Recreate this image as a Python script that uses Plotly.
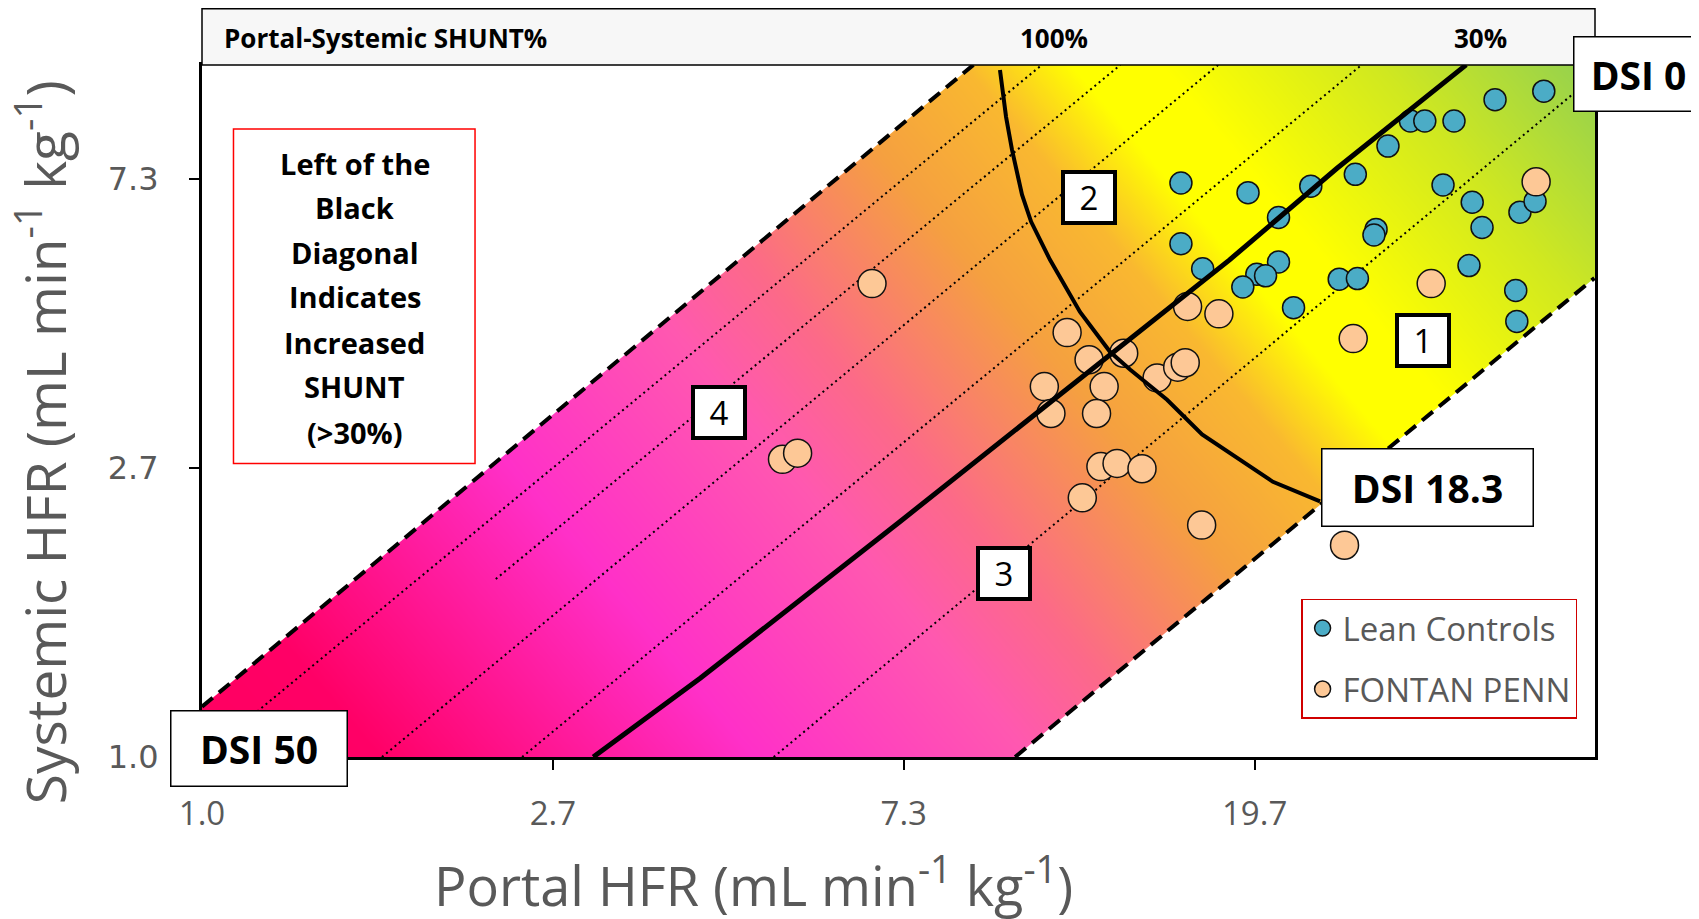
import numpy as np
import plotly.graph_objects as go

# ---------------- data (HFR values, mL/min/kg) ----------------
lean_portal = [16.28, 19.71, 23.57, 26.76, 29.37, 31.31, 32.62, 35.45, 39.85, 45.79,
               34.36, 37.34, 38.40, 42.78, 44.66, 28.39, 28.22, 21.50, 16.28, 17.32,
               21.50, 20.21, 20.72, 19.42, 22.44, 25.56, 26.92, 37.00, 42.27, 42.40]
lean_systemic = [7.28, 7.04, 7.20, 7.50, 8.27, 9.02, 9.02, 9.02, 9.71, 10.00,
                 7.23, 6.81, 6.24, 6.58, 6.83, 6.20, 6.08, 6.46, 5.90, 5.41,
                 5.54, 5.31, 5.28, 5.08, 4.73, 5.22, 5.23, 5.47, 5.02, 4.51]

fontan_portal = [6.75, 5.23, 5.46, 11.77, 12.53, 13.83, 11.03, 13.08, 11.24, 12.80,
                 15.21, 16.13, 16.48, 16.59, 18.14, 12.96, 13.57, 14.57, 12.29, 17.27,
                 25.95, 26.60, 33.22, 44.80]
fontan_systemic = [5.14, 2.80, 2.86, 4.34, 3.95, 4.04, 3.60, 3.60, 3.28, 3.28,
                   3.71, 3.85, 3.91, 4.75, 4.63, 2.73, 2.76, 2.71, 2.45, 2.23,
                   2.08, 4.25, 5.14, 7.31]

# band boundaries (dashed)
dsi50_edge_portal = [1.0, 9.01]
dsi50_edge_systemic = [1.19, 10.95]
dsi0_edge_portal = [10.15, 52.9]
dsi0_edge_systemic = [1.0, 5.24]

# shunt reference lines (dotted)
shunt100_portal = [1.0, 10.95]
shunt100_systemic = [1.0, 10.95]
shunt80_portal = [2.31, 13.7]
shunt80_systemic = [1.85, 10.95]
shunt60_portal = [1.67, 18.1]
shunt60_systemic = [1.0, 10.95]
shunt40_portal = [2.49, 27.25]
shunt40_systemic = [1.0, 10.95]
shunt20_portal = [5.1, 53.0]
shunt20_systemic = [1.0, 10.55]

# 30% shunt (black diagonal)
shunt30_portal = [3.05, 4.14, 7.32, 13.4, 18.7, 25.4, 36.7]
shunt30_systemic = [1.0, 1.314, 2.26, 4.04, 5.58, 7.66, 10.95]

# DSI 18.3 contour
dsi18_portal = [9.72, 9.89, 10.06, 10.35, 10.62, 11.21, 12.21, 13.30, 14.08, 15.65,
                17.29, 19.26, 21.16, 24.20]
dsi18_systemic = [10.76, 9.15, 8.16, 6.99, 6.37, 5.58, 4.66, 4.06, 3.82, 3.44,
                  3.05, 2.80, 2.59, 2.42]

x_tick_vals = [1.0, 2.71828, 7.38906, 20.0855]
x_tick_text = ["1.0", "2.7", "7.3", "19.7"]
y_tick_vals = [1.0, 2.71828, 7.38906, 10.95]
y_tick_text = ["1.0", "2.7", "7.3", ""]

note_lines = ["Left of the", "Black", "Diagonal", "Indicates", "Increased", "SHUNT", "(>30%)"]

# axis extents in natural-log units
X_LN_MAX = 3.97
Y_LN_MAX = 2.393

# ---------------- figure ----------------
fig = go.Figure()

# background gradient on hidden linear (ln) axes
gx = np.linspace(0, X_LN_MAX, 320)
gy = np.linspace(0, Y_LN_MAX, 180)
W, H, K = 1393.0, 692.0, 0.84
zz = (gx[None, :] / X_LN_MAX * W + K * gy[:, None] / Y_LN_MAX * H) / (W + K * H)
grad = [
    [0.0, "#ff0060"], [0.09, "#ff0066"], [0.28, "#ff30c8"], [0.42, "#ff58b0"],
    [0.49, "#fc6a88"], [0.60, "#f5a040"], [0.68, "#f9b830"], [0.735, "#ffff00"],
    [0.78, "#ffff00"], [0.89, "#d0e820"], [1.0, "#92d050"],
]
fig.add_trace(go.Heatmap(x=gx, y=gy, z=zz, zmin=0, zmax=1, colorscale=grad,
                         showscale=False, zsmooth="best", hoverinfo="skip",
                         xaxis="x", yaxis="y"))

# white masks outside the band
def line_fn(px, py):
    lx = np.log(px); ly = np.log(py)
    m = (ly[1] - ly[0]) / (lx[1] - lx[0])
    return lx[0], ly[0], m

ax0, ay0, am = line_fn(np.array(dsi50_edge_portal), np.array(dsi50_edge_systemic))
top = Y_LN_MAX + 0.2
ux = [-0.2, ax0 + (top - ay0) / am, -0.2]
uy = [ay0 + am * (-0.2 - ax0), top, top]
fig.add_trace(go.Scatter(x=ux, y=uy, fill="toself", fillcolor="white", mode="lines",
                         line=dict(width=0, color="white"), hoverinfo="skip",
                         showlegend=False, xaxis="x", yaxis="y"))
bx0, by0, bm = line_fn(np.array(dsi0_edge_portal), np.array(dsi0_edge_systemic))
right = X_LN_MAX + 0.2
lx_ = [bx0 + (-0.2 - by0) / bm, right, right]
ly_ = [-0.2, by0 + bm * (right - bx0), -0.2]
fig.add_trace(go.Scatter(x=lx_, y=ly_, fill="toself", fillcolor="white", mode="lines",
                         line=dict(width=0, color="white"), hoverinfo="skip",
                         showlegend=False, xaxis="x", yaxis="y"))

def add_line(px, py, width, dash, color="black"):
    fig.add_trace(go.Scatter(x=px, y=py, mode="lines", line=dict(color=color, width=width, dash=dash),
                             hoverinfo="skip", showlegend=False, xaxis="x2", yaxis="y2"))

DOT = "2px,3.5px"
for px, py in [(shunt100_portal, shunt100_systemic), (shunt80_portal, shunt80_systemic),
               (shunt60_portal, shunt60_systemic), (shunt40_portal, shunt40_systemic),
               (shunt20_portal, shunt20_systemic)]:
    add_line(px, py, 2, DOT)
add_line(dsi50_edge_portal, dsi50_edge_systemic, 4, "14px,8px")
add_line(dsi0_edge_portal, dsi0_edge_systemic, 4, "14px,8px")

fig.add_trace(go.Scatter(x=lean_portal, y=lean_systemic, mode="markers", name="Lean Controls",
                         legendgroup="a",
                         marker=dict(size=22, color="#4bacc6", line=dict(color="#111111", width=1.5)),
                         xaxis="x2", yaxis="y2"))
fig.add_trace(go.Scatter(x=fontan_portal, y=fontan_systemic, mode="markers", name="FONTAN PENN",
                         legendgroup="b",
                         marker=dict(size=28, color="#fdc896", line=dict(color="#111111", width=1.5)),
                         xaxis="x2", yaxis="y2"))

add_line(shunt30_portal, shunt30_systemic, 5, "solid")
add_line(dsi18_portal, dsi18_systemic, 4, "solid")

GRAY = "#595959"
LN10 = np.log(10)
fig.update_layout(
    width=1691, height=911,
    margin=dict(l=194, r=104, t=57, b=162),
    paper_bgcolor="white", plot_bgcolor="white",
    xaxis=dict(range=[0, X_LN_MAX], visible=False, fixedrange=True),
    yaxis=dict(range=[0, Y_LN_MAX], visible=False, fixedrange=True),
    xaxis2=dict(type="log", overlaying="x", anchor="y2", side="bottom",
                range=[0, X_LN_MAX / LN10], tickmode="array", tickvals=x_tick_vals,
                ticktext=x_tick_text, ticks="outside", ticklen=10, tickwidth=2, tickcolor="black",
                showline=True, linecolor="black", linewidth=3, mirror=True, showgrid=False,
                zeroline=False, tickfont=dict(family="Open Sans", size=33, color=GRAY),
                ticklabelstandoff=15),
    yaxis2=dict(type="log", overlaying="y", anchor="x2", side="left",
                range=[0, Y_LN_MAX / LN10], tickmode="array", tickvals=y_tick_vals,
                ticktext=y_tick_text, ticks="outside", ticklen=10, tickwidth=2, tickcolor="black",
                showline=True, linecolor="black", linewidth=3, mirror=True, showgrid=False,
                zeroline=False, tickfont=dict(family="DejaVu Sans", size=32, color=GRAY),
                ticklabelstandoff=24),
    showlegend=True,
    legend=dict(x=0.789, y=0.2288, xanchor="left", yanchor="top", bgcolor="white",
                bordercolor="#d00000", borderwidth=1.5, tracegroupgap=15,
                font=dict(family="Open Sans", size=33, color=GRAY), itemsizing="trace"),
)

shapes = [
    dict(type="rect", xref="paper", yref="paper", x0=0, x1=1, y0=1, y1=1.0813,
         fillcolor="#f7f7f7", line=dict(color="black", width=1.5), layer="above"),
    dict(type="rect", xref="paper", yref="paper", x0=0.0226, x1=0.196, y0=0.4242, y1=0.9076,
         fillcolor="rgba(0,0,0,0)", line=dict(color="#ff0000", width=1.5), layer="above"),
]
fig.update_layout(shapes=shapes)

ann = []
# header
ann.append(dict(text="<b>Portal-Systemic SHUNT%</b>", x=0.014, y=1.039, xanchor="left",
                yanchor="middle", font=dict(family="Open Sans", size=26, color="black")))
ann.append(dict(text="<b>100%</b>", x=0.6117, y=1.039, xanchor="center", yanchor="middle",
                font=dict(family="Open Sans", size=26, color="black")))
ann.append(dict(text="<b>30%</b>", x=0.9175, y=1.039, xanchor="center", yanchor="middle",
                font=dict(family="Open Sans", size=26, color="black")))
# note lines
note_y = [0.8576, 0.7935, 0.7292, 0.6651, 0.5994, 0.5352, 0.4695]
for t, yy in zip(note_lines, note_y):
    ann.append(dict(text="<b>" + t + "</b>", x=0.1097, y=yy, xanchor="center", yanchor="middle",
                    font=dict(family="Open Sans", size=29, color="black")))
# DSI boxes
for t, xx, yy, w, h in [("DSI 0", 1.0309, 0.9874, 128, 73), ("DSI 18.3", 0.8794, 0.3891, 210, 76),
                         ("DSI 50", 0.0408, 0.01257, 175, 74)]:
    ann.append(dict(text="<b>" + t + "</b>", x=xx, y=yy, xanchor="center", yanchor="middle",
                    width=w, height=h, bgcolor="white", bordercolor="black", borderwidth=1.5,
                    borderpad=0, font=dict(family="Open Sans", size=39, color="black")))
# numbered boxes
for t, xx, yy in [("1", 0.8766, 0.6014), ("2", 0.6369, 0.8084), ("3", 0.5760, 0.2646),
                  ("4", 0.3709, 0.4977)]:
    ann.append(dict(text=t, x=xx, y=yy, xanchor="center", yanchor="middle", width=48, height=47,
                    bgcolor="white", bordercolor="black", borderwidth=4, borderpad=0,
                    font=dict(family="Open Sans", size=33, color="black")))
# axis titles
ann.append(dict(text="Portal HFR (mL min<sup>-1</sup> kg<sup>-1</sup>)", x=0.396, y=-0.181,
                xanchor="center", yanchor="middle",
                font=dict(family="Open Sans", size=54, color=GRAY)))
ann.append(dict(text="Systemic HFR (mL min<sup>-1</sup> kg<sup>-1</sup>)", x=-0.115, y=0.4547,
                xanchor="center", yanchor="middle", textangle=-90,
                font=dict(family="Open Sans", size=55, color=GRAY)))
for a in ann:
    a.setdefault("xref", "paper")
    a.setdefault("yref", "paper")
    a.setdefault("showarrow", False)
fig.update_layout(annotations=ann)

fig.write_html("out.html")
